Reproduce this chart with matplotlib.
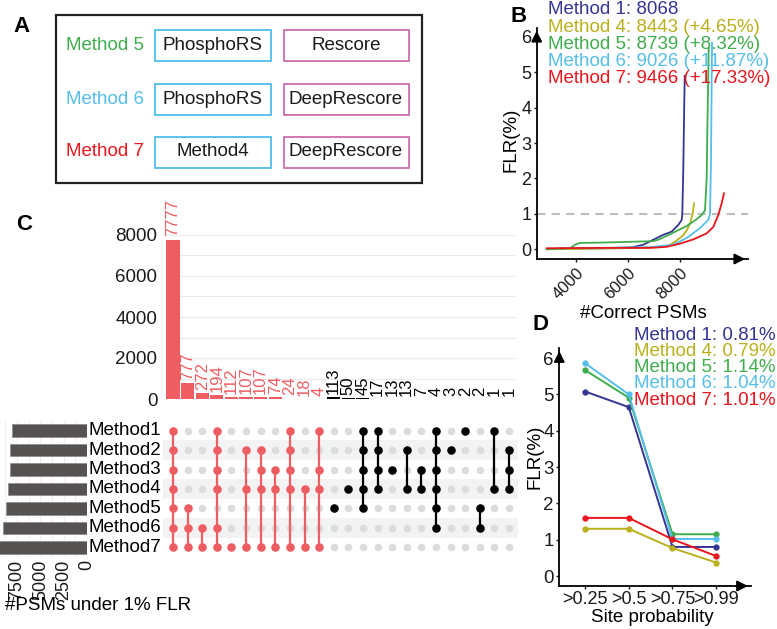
import matplotlib
matplotlib.use("Agg")
import matplotlib.pyplot as plt
from matplotlib.patches import Rectangle

plt.rcParams['font.family'] = ['Liberation Sans', 'DejaVu Sans']

# colours per method
c_m1 = '#343494'
c_m4 = '#B9B01C'
c_m5 = '#3FAD4C'
c_m6 = '#55BEEA'
c_m7 = '#E8161C'
c_hl = '#EE5D62'

# ---- panel A: method composition
a_methods = ['Method 5', 'Method 6', 'Method 7']
a_colors = [c_m5, c_m6, c_m7]
a_first = ['PhosphoRS', 'PhosphoRS', 'Method4']
a_second = ['Rescore', 'DeepRescore', 'DeepRescore']

# ---- panel B: FLR vs #correct PSMs
b_names = ['Method 1', 'Method 4', 'Method 5', 'Method 6', 'Method 7']
b_counts = [8068, 8443, 8739, 9026, 9466]
b_gain = [None, '+4.65%', '+8.32%', '+11.87%', '+17.33%']
b_x = [
    [3900, 5000, 6000, 6200, 6590, 6975, 7360, 7683, 7938, 8068, 8091, 8130, 8168, 8185],
    [2900, 5000, 6500, 7232, 7600, 7875, 8100, 8260, 8400, 8453, 8490, 8542],
    [2870, 3766, 3960, 4150, 5000, 6000, 6975, 7200, 7745, 8260, 8645, 8838, 8965, 9030, 9054, 9108],
    [3316, 5000, 6848, 7745, 8260, 8773, 9092, 9158, 9196, 9235],
    [2870, 5000, 6848, 7490, 8003, 8515, 9030, 9285, 9477, 9608, 9697],
]
b_y = [
    [0.02, 0.03, 0.05, 0.06, 0.13, 0.27, 0.41, 0.50, 0.69, 0.83, 1.0, 2.3, 4.2, 4.9],
    [0.0, 0.02, 0.04, 0.06, 0.12, 0.25, 0.38, 0.53, 0.75, 0.91, 1.0, 1.3],
    [0.0, 0.03, 0.13, 0.18, 0.19, 0.21, 0.23, 0.28, 0.47, 0.66, 0.85, 0.97, 1.1, 2.0, 3.3, 5.67],
    [0.03, 0.04, 0.06, 0.13, 0.32, 0.60, 0.83, 1.0, 2.5, 5.83],
    [0.03, 0.04, 0.04, 0.07, 0.16, 0.28, 0.45, 0.63, 0.97, 1.3, 1.58],
]
b_colors = [c_m1, c_m4, c_m5, c_m6, c_m7]

# ---- panel C: upset plot
set_names = ['Method1', 'Method2', 'Method3', 'Method4', 'Method5', 'Method6', 'Method7']
set_sizes = [8068, 8292, 8267, 8443, 8718, 9026, 9466]
inter_sizes = [7777, 777, 272, 194, 112, 107, 107, 74, 24, 18, 4,
               113, 50, 45, 17, 13, 13, 7, 4, 3, 2, 2, 1, 1]
inter_sets = [
    [1, 2, 3, 4, 5, 6, 7], [5, 6, 7], [6, 7], [1, 2, 3, 4, 6, 7], [7], [2, 4, 7],
    [2, 3, 4, 7], [3, 4, 7], [1, 2, 3, 4, 7], [4, 7], [1, 3, 4, 7],
    [5], [4], [1, 2, 3, 4, 5], [1, 2, 3, 4], [3], [2, 4], [3, 4],
    [1, 2, 3, 4, 5, 6], [2], [1], [5, 6], [1, 4], [2, 3, 4],
]

# ---- panel D: FLR by site probability
d_cats = ['>0.25', '>0.5', '>0.75', '>0.99']
d_names = ['Method 1', 'Method 4', 'Method 5', 'Method 6', 'Method 7']
d_overall = ['0.81%', '0.79%', '1.14%', '1.04%', '1.01%']
d_vals = [
    [5.08, 4.65, 0.80, 0.80],
    [1.30, 1.30, 0.77, 0.37],
    [5.67, 4.91, 1.15, 1.15],
    [5.86, 5.00, 1.02, 1.02],
    [1.60, 1.60, 1.01, 0.55],
]
d_colors = [c_m1, c_m4, c_m5, c_m6, c_m7]

W, H = 777, 629
fig = plt.figure(figsize=(W / 100, H / 100), dpi=100)


def add_ax(l, t, r, b):
    return fig.add_axes([l / W, 1 - b / H, (r - l) / W, (b - t) / H])


def ftext(x, y, s, **kw):
    return fig.text(x / W, 1 - y / H, s, **kw)


fs = 13.5

# panel A drawn on a pixel-space overlay
ov = fig.add_axes([0, 0, 1, 1], zorder=-5)
ov.set_xlim(0, W)
ov.set_ylim(H, 0)
ov.axis('off')
ov.add_patch(Rectangle((56, 15), 366, 168, fill=False, ec='#222222', lw=1.6))
row_y = [45, 99, 152]
for i in range(3):
    yc = row_y[i]
    ov.text(66, yc, a_methods[i], color=a_colors[i], fontsize=fs, va='center', ha='left')
    ov.add_patch(Rectangle((155, yc - 15.5), 116, 31, fill=False, ec='#4FBDEA', lw=1.3))
    ov.add_patch(Rectangle((284, yc - 15.5), 125, 31, fill=False, ec='#CC6FB0', lw=1.3))
    ov.text(213, yc, a_first[i], fontsize=fs, va='center', ha='center', color='#1a1a1a')
    ov.text(346, yc, a_second[i], fontsize=fs, va='center', ha='center', color='#1a1a1a')

# panel labels
for lab, x, y in [('A', 22, 27), ('B', 519, 16), ('C', 24, 224), ('D', 541, 325)]:
    ftext(x, y, lab, fontsize=16, fontweight='bold', ha='center', va='center')


def arrow_axes(ax):
    for s in ['top', 'right']:
        ax.spines[s].set_visible(False)
    for s in ['left', 'bottom']:
        ax.spines[s].set_linewidth(1.3)
    ax.annotate('', xy=(1.0, 0), xytext=(0.93, 0), xycoords='axes fraction',
                arrowprops=dict(arrowstyle='-|>', color='black', lw=1.3, mutation_scale=16))
    ax.annotate('', xy=(0, 1.0), xytext=(0, 0.93), xycoords='axes fraction',
                arrowprops=dict(arrowstyle='-|>', color='black', lw=1.3, mutation_scale=16))
    ax.patch.set_alpha(0)


# ---- panel B
ax_b = add_ax(536.7, 28, 748, 259)
ax_b.set_xlim(2485, 10621)
ax_b.set_ylim(-0.274, 6.25)
ax_b.axhline(1, color='#BDBDBD', lw=1.5, ls=(0, (4, 3)), zorder=1)
for xs, ys, c in zip(b_x, b_y, b_colors):
    ax_b.plot(xs, ys, color=c, lw=1.3, zorder=2)
arrow_axes(ax_b)
ax_b.set_yticks(range(7))
ax_b.set_xticks([4000, 6000, 8000])
ax_b.set_xticklabels(['4000', '6000', '8000'], rotation=45, ha='right', rotation_mode='anchor')
ax_b.tick_params(axis='both', length=2.5, width=1, labelsize=fs - 0.5, colors='#1a1a1a')
ax_b.tick_params(axis='y', pad=1.5)
ax_b.tick_params(axis='x', pad=2, labelsize=12)
ftext(643, 314, '#Correct PSMs', fontsize=fs, ha='center', va='center')
ftext(511, 140, 'FLR(%)', rotation=90, fontsize=fs, ha='center', va='center')
for i in range(5):
    s = f'{b_names[i]}: {b_counts[i]}'
    if b_gain[i]:
        s += f' ({b_gain[i]})'
    ftext(548, 10 + 17.1 * i, s, color=b_colors[i], fontsize=fs, ha='left', va='center')

# ---- panel C: intersection bars
ncol = len(inter_sizes)
ax_c = add_ax(165.7, 224.75, 516.3, 399)
ax_c.set_xlim(-0.5, ncol - 0.5)
ax_c.set_ylim(0, 8500)
for g in range(0, 9000, 1000):
    ax_c.axhline(g, color='#EBEBEB', lw=0.9, zorder=0)
bar_cols = [c_hl if 7 in m else 'black' for m in inter_sets]
ax_c.bar(range(ncol), inter_sizes, width=0.9, color=bar_cols, zorder=2)
for i, v in enumerate(inter_sizes):
    ax_c.text(i, v + 150, str(v), rotation=90, ha='center', va='bottom',
              color=bar_cols[i], fontsize=12, clip_on=False)
for s in ax_c.spines.values():
    s.set_visible(False)
ax_c.set_xticks([])
ax_c.set_yticks(range(0, 8001, 2000))
ax_c.tick_params(axis='y', length=0, pad=6, labelsize=fs, colors='#1a1a1a')
ax_c.patch.set_alpha(0)

# ---- panel C: matrix
ax_m = add_ax(163, 421, 518, 557)
ax_m.set_xlim(-0.684, ncol - 0.39)
ax_m.set_ylim(6.5, -0.5)
for r in [1, 3, 5]:
    ax_m.axhspan(r - 0.5, r + 0.5, color='#F3F3F3', zorder=0, lw=0)
for c, members in enumerate(inter_sets):
    col = bar_cols[c]
    rows = [m - 1 for m in members]
    empty = [r for r in range(7) if r not in rows]
    ax_m.scatter([c] * len(empty), empty, s=30, color='#DCDCDC', zorder=1, lw=0)
    if len(rows) > 1:
        ax_m.plot([c, c], [min(rows), max(rows)], color=col, lw=1.6, zorder=2)
    ax_m.scatter([c] * len(rows), rows, s=38, color=col, zorder=3, lw=0)
ax_m.axis('off')
for r, name in enumerate(set_names):
    ftext(88, 430.7 + 19.4 * r, name, fontsize=fs, ha='left', va='center')

# ---- panel C: set sizes
ax_s = add_ax(0, 421, 87, 557)
ax_s.set_xlim(9330, 0)
ax_s.set_ylim(6.5, -0.5)
for g in range(0, 10000, 1250):
    ax_s.axvline(g, color='#EFEFEF', lw=0.8, zorder=0)
ax_s.barh(range(7), set_sizes, height=0.65, color='#575252', edgecolor='#8F8F8F', lw=0.6, zorder=2)
for s in ax_s.spines.values():
    s.set_visible(False)
ax_s.set_yticks([])
ax_s.set_xticks([7500, 5000, 2500, 0])
ax_s.tick_params(axis='x', length=0, pad=2, labelsize=fs - 0.5, labelrotation=90, colors='#1a1a1a')
ax_s.patch.set_alpha(0)
ftext(5, 606, '#PSMs under 1% FLR', fontsize=fs, ha='left', va='center')

# ---- panel D
ax_d = add_ax(559.3, 348.3, 750.7, 586)
ax_d.set_xlim(-0.59, 3.79)
ax_d.set_ylim(-0.275, 6.27)
for vals, c in zip(d_vals, d_colors):
    ax_d.plot(range(len(d_cats)), vals, color=c, lw=1.4, marker='o', ms=3.5)
arrow_axes(ax_d)
ax_d.set_xticks(range(len(d_cats)))
ax_d.set_xticklabels(d_cats)
ax_d.set_yticks(range(7))
ax_d.tick_params(axis='both', length=2.5, width=1, labelsize=fs, colors='#1a1a1a')
ax_d.tick_params(axis='y', pad=1.5)
ax_d.tick_params(axis='x', labelsize=13, pad=1)
ftext(535, 457, 'FLR(%)', rotation=90, fontsize=fs, ha='center', va='center')
ftext(652, 618, 'Site probability', fontsize=fs, ha='center', va='center')
for i in range(5):
    ftext(776, 335 + 16.3 * i, f'{d_names[i]}: {d_overall[i]}', color=d_colors[i],
          fontsize=fs, ha='right', va='center')

fig.savefig('out.png', dpi=100)
